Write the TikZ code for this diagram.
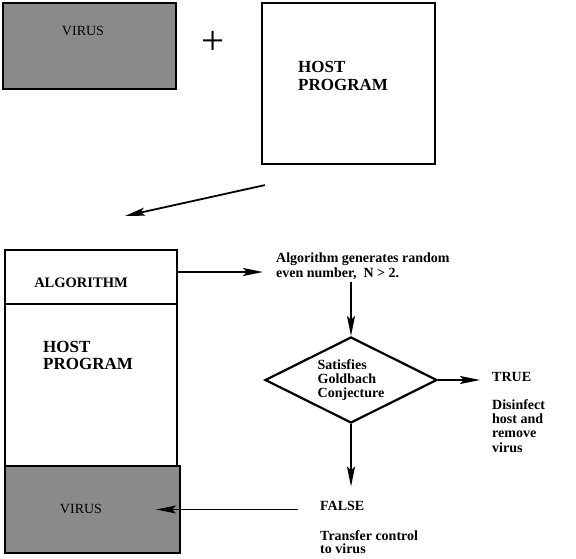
\documentclass[tikz,border=0pt]{standalone}
\usepackage{fontspec}
\setmainfont{Liberation Serif}
\usepackage{tikz}
\usetikzlibrary{shapes,arrows.meta}

\definecolor{virusgray}{RGB}{138,138,138}

\begin{document}
\begin{tikzpicture}[x=1pt,y=-1pt,
    box/.style={rectangle,draw=black,line width=2.2pt,inner sep=0pt},
    infected/.style={box,fill=virusgray},
    txt/.style={inner sep=0pt,font=\bfseries\fontsize{14}{14.5}\selectfont,align=left},
    arr/.style={line width=1.8pt,-{Stealth[length=20pt,width=8pt,inset=4pt]}}]
  \useasboundingbox (0,0) rectangle (576,558);
  % virus + host
  \node[infected,minimum width=173pt,minimum height=86pt] (virust) at (89.5,46) {};
  \node[inner sep=0pt,anchor=base,font=\fontsize{14}{14}\selectfont] (virusttxt) at (83,35) {VIRUS};
  \node[inner sep=0pt,font=\fontsize{41}{41}\selectfont] (plus) at (213,43) {+};
  \node[box,minimum width=173pt,minimum height=161pt] (hostt) at (348.5,83.5) {};
  \node[txt,anchor=base west,font=\bfseries\fontsize{17}{18}\selectfont] (hostttxt) at (298,90) {HOST\\PROGRAM};
  \coordinate (infect) at (125,216);
  \draw[arr] ([shift={(4,20)}]hostt.south west) -- (infect);
  % infected program
  \node[box,minimum width=172pt,minimum height=54pt] (algo) at (91,277) {};
  \node[txt,anchor=base,font=\bfseries\fontsize{14.5}{15}\selectfont] (algotxt) at (81,287) {ALGORITHM};
  \node[box,minimum width=172pt,minimum height=162pt] (hostb) at (91,385) {};
  \node[txt,anchor=base west,font=\bfseries\fontsize{17}{17}\selectfont] (hostbtxt) at (43,369) {HOST\\PROGRAM};
  \node[infected,minimum width=175pt,minimum height=87pt] (virusb) at (92.5,509.5) {};
  \node[inner sep=0pt,anchor=base,font=\fontsize{14}{14}\selectfont] (virusbtxt) at (81,513) {VIRUS};
  % flow chart
  \node[txt,anchor=base west,font=\bfseries\fontsize{14}{15}\selectfont] (gen) at (276,277) {Algorithm generates random\\even number,~ N > 2.};
  \node[txt,diamond,aspect=2,draw,line width=2.2pt,minimum width=172pt,minimum height=86pt,font=\bfseries\fontsize{14}{14}\selectfont] (dia) at (351,380) {Satisfies\\Goldbach\\Conjecture};
  \node[txt,anchor=base west] (true) at (492,381) {TRUE};
  \node[txt,anchor=base west,font=\bfseries\fontsize{14}{14.3}\selectfont] (disinfect) at (492,452) {Disinfect\\host and\\remove\\virus};
  \node[txt,anchor=base west] (false) at (320,510) {FALSE};
  \node[txt,anchor=base west,font=\bfseries\fontsize{14}{13.5}\selectfont] (transfer) at (320,553.5) {Transfer control\\to virus};

  \draw[arr,shorten >=13pt] ([yshift=5pt]algo.east) -- ([yshift=5pt]algo.east -| gen.west);
  \draw[arr,shorten <=3pt] (dia.north |- gen.south) -- (dia.north);
  \draw[arr,shorten >=12pt] (dia.east) -- (dia.east -| true.west);
  \draw[arr,shorten >=14pt] (dia.south) -- (dia.south |- false.north);
  \draw[arr,shorten <=22pt,shorten >=-25pt] (virusb.east -| false.west) -- (virusb.east);
\end{tikzpicture}
\end{document}
